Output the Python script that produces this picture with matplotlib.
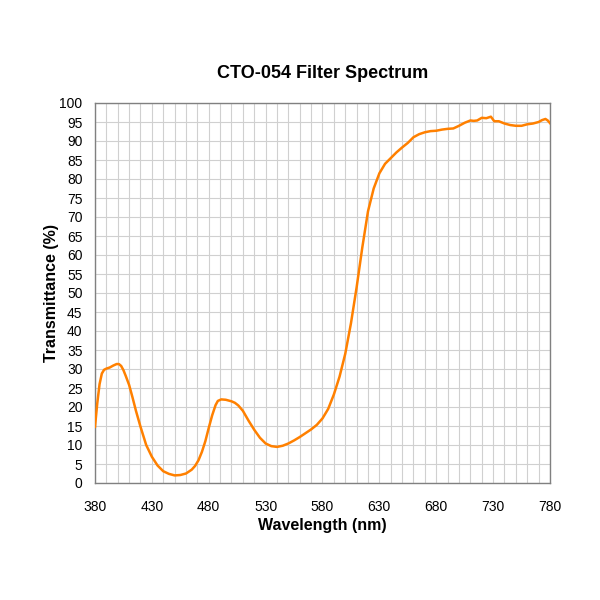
import matplotlib
matplotlib.use("Agg")
import matplotlib.pyplot as plt
from matplotlib.ticker import MultipleLocator

wavelength = [380, 382, 384, 386, 388, 390, 393, 396, 399, 401, 403, 405, 407, 410, 413, 416, 420,
              425, 430, 435, 440, 445, 450, 455, 460, 465, 468, 471, 474, 477, 480, 483, 486, 488,
              491, 495, 500, 503, 506, 510, 515, 520, 525, 530, 535, 540, 545, 550, 555, 560, 565,
              570, 575, 580, 585, 590, 595, 600, 605, 610, 615, 620, 625, 630, 635, 640, 645, 650,
              655, 660, 665, 670, 675, 680, 685, 690, 695, 700, 705, 710, 713, 716, 720, 724, 728,
              731, 735, 740, 745, 750, 755, 760, 765, 770, 773, 776, 778, 780]
transmittance = [14.8, 21.0, 26.0, 28.8, 29.8, 30.1, 30.4, 30.9, 31.3, 31.3, 30.8, 29.7, 28.2, 25.8,
                 22.5, 19.0, 14.8, 10.0, 6.9, 4.6, 3.1, 2.4, 2.0, 2.1, 2.5, 3.5, 4.5, 6.0, 8.2, 11.0,
                 14.5, 17.8, 20.5, 21.6, 22.0, 21.9, 21.5, 21.1, 20.4, 19.0, 16.4, 14.0, 11.9, 10.4,
                 9.7, 9.5, 9.8, 10.4, 11.2, 12.1, 13.1, 14.1, 15.3, 17.0, 19.5, 23.3, 28.0, 34.0,
                 42.0, 51.5, 62.0, 71.5, 77.5, 81.5, 84.0, 85.5, 87.0, 88.3, 89.5, 91.0, 91.8, 92.3,
                 92.6, 92.7, 93.0, 93.2, 93.3, 94.0, 94.8, 95.4, 95.3, 95.4, 96.1, 96.0, 96.4, 95.2,
                 95.2, 94.6, 94.2, 94.0, 94.0, 94.4, 94.6, 95.0, 95.5, 95.8, 95.4, 94.7]

x_ticks = [380, 430, 480, 530, 580, 630, 680, 730, 780]
y_ticks = list(range(0, 101, 5))

plt.rcParams['font.family'] = ['Liberation Sans', 'DejaVu Sans']

fig = plt.figure(figsize=(6, 6), dpi=100)
ax = fig.add_axes([95/600, 1 - 483/600, 455/600, 380/600])

ax.plot(wavelength, transmittance, color='#FF8000', linewidth=1.8, zorder=3,
        solid_joinstyle='round')

ax.set_xlim(380, 780)
ax.set_ylim(0, 100)
ax.set_xticks(x_ticks)
ax.set_yticks(y_ticks)
ax.xaxis.set_minor_locator(MultipleLocator(10))
ax.grid(True, which='both', color='#D0D0D0', linewidth=0.8)
ax.set_axisbelow(True)
ax.tick_params(which='both', length=0, labelsize=10, colors='black')
ax.tick_params(axis='x', pad=12)
ax.tick_params(axis='y', pad=9)
for s in ax.spines.values():
    s.set_color('#808080')
    s.set_linewidth(1.0)

ax.set_xlabel('Wavelength (nm)', fontsize=11.5, fontweight='bold', labelpad=3)
ax.set_ylabel('Transmittance (%)', fontsize=11.5, fontweight='bold', labelpad=0)
ax.set_title('CTO-054 Filter Spectrum', fontsize=13, fontweight='bold', pad=18)

fig.savefig('out.png', dpi=100, facecolor='white')
